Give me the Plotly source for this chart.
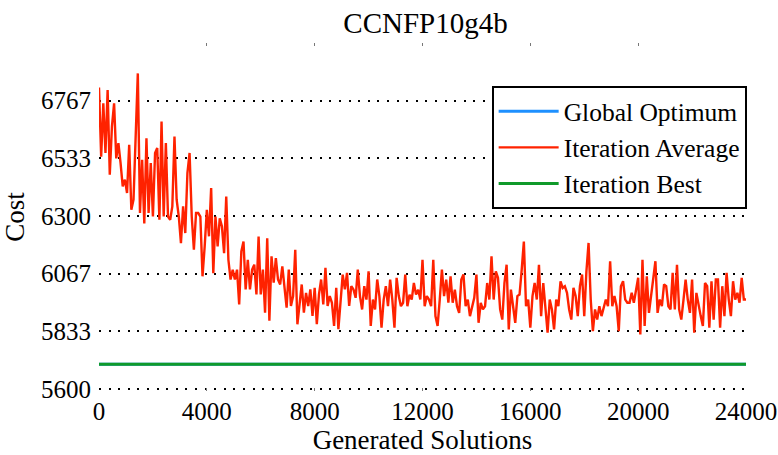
import plotly.graph_objects as go

# Sampling grid of generated solutions for the per-iteration average
solutions = list(range(0, 24001, 80))

# Average cost of the solutions generated in each iteration
iteration_average = [
    6820, 6540, 6756, 6555, 6810, 6467, 6662, 6756, 6533, 6595,
    6514, 6420, 6447, 6393, 6588, 6325, 6366, 6601, 6877, 6312,
    6527, 6270, 6615, 6312, 6514, 6298, 6555, 6575, 6285, 6682,
    6298, 6595, 6298, 6285, 6339, 6622, 6366, 6298, 6190, 6339,
    6231, 6474, 6555, 6298, 6164, 6312, 6312, 6298, 6056, 6177,
    6325, 6218, 6413, 6069, 6298, 6177, 6291, 6258, 6150, 6379,
    6123, 6043,
    6083, 6043, 6083, 5942, 6157, 6197, 6003, 6123, 6003, 6083,
    6103, 5983, 6217, 5983, 6083, 5909, 6210, 5876, 6137, 6030,
    6130, 6043, 6023, 6096, 6016, 5929, 6083, 5936, 5976, 6163,
    5862, 5956, 6023, 5909, 5989, 5936, 6003, 5896, 6009, 5862,
    5983, 6043, 5942, 6090, 5936, 5976, 5949, 5855, 6009, 5842,
    5949, 6063, 6003, 6070, 5936, 6016, 6003, 5969, 6083, 5976,
    5922, 6016, 5962, 6076, 5855, 5962, 5922, 6043, 5976, 5848,
    5962, 6016, 5935, 6043, 5962, 5848, 6050, 5976, 5935, 5949,
    6063, 5935, 5982, 5962, 6029, 5982, 6002, 5962, 6123, 5935,
    5976, 5962, 5935, 6123, 5895, 5855, 5962, 6083, 5976, 6043,
    5949, 6056, 5949, 6002, 5935, 5908, 6043, 6063, 5935, 5962,
    5895, 5935, 5969, 6063, 5868, 5949, 5922, 5935, 6029, 5962,
    6137, 5962, 6076, 6050, 5922, 5881, 6029, 6103, 5841, 6002,
    5922, 5868, 5976, 5982, 6083, 6197, 5935, 5962, 5848, 5976,
    6029, 5962, 6103, 5895, 6029, 5908, 5828, 5962, 5922, 5841,
    5962, 5935, 6036, 6009, 6016, 5989, 5922, 5881, 6009, 5976,
    5895, 6016, 6063, 5895, 6076, 6191, 5962, 5834, 5922, 5881,
    5935, 5895, 5928, 5962, 5935, 6117, 5935, 5976, 5935, 5834,
    6016, 6036, 5962, 5949, 5949, 5989, 5949, 6009, 6050, 5821,
    6123, 5855, 6056, 5908, 5976, 6029, 6117, 5908, 5962, 5935,
    6023, 6016, 5935, 5922, 6070, 5922, 6103, 5922, 5881, 5960,
    6043, 5962, 5908, 6043, 5828, 5989, 5935, 5895, 5855, 6029,
    6016, 5848, 6036, 5881, 6043, 6043, 5848, 6016, 5895, 6070,
    5962, 5895, 6036, 5962, 5989, 5949, 6050, 5962, 5962,
]

# Constant reference levels (start and end of the run)
run_span = [0, 24000]
global_optimum = [5700, 5700]
iteration_best = [5700, 5700]

# Axis ticks
x_tick_values = [0, 4000, 8000, 12000, 16000, 20000, 24000]
x_tick_labels = ["0", "4000", "8000", "12000", "16000", "20000", "24000"]
y_tick_values = [5600, 5833.33, 6066.67, 6300, 6533.33, 6766.67]
y_tick_labels = ["5600", "5833", "6067", "6300", "6533", "6767"]

FONT = "Liberation Serif"

fig = go.Figure()
fig.add_trace(go.Scatter(
    x=run_span, y=global_optimum, mode="lines", name="Global Optimum",
    line=dict(color="#1e90ff", width=3),
))
fig.add_trace(go.Scatter(
    x=solutions, y=iteration_average, mode="lines", name="Iteration Average",
    line=dict(color="#ff2200", width=2.4),
))
fig.add_trace(go.Scatter(
    x=run_span, y=iteration_best, mode="lines", name="Iteration Best",
    line=dict(color="#109a2a", width=3),
))

fig.update_layout(
    width=778, height=455,
    margin=dict(l=99, r=32, t=43, b=64, autoexpand=False),
    paper_bgcolor="white", plot_bgcolor="white",
    font=dict(family=FONT, size=25, color="black"),
    title=dict(text="CCNFP10g4b", x=0.547, xanchor="center",
               y=1 - 23 / 455, yanchor="middle", yref="container",
               font=dict(family=FONT, size=29, color="black")),
    showlegend=True,
    legend=dict(x=1.001, xanchor="right", y=0.876, yanchor="top",
                bgcolor="white", bordercolor="black", borderwidth=2,
                tracegroupgap=0, itemwidth=60,
                font=dict(family=FONT, size=25.5, color="black")),
)
fig.update_xaxes(
    range=[0, 24000], tickvals=x_tick_values, ticktext=x_tick_labels,
    automargin=False,
    ticks="inside", ticklen=3, tickcolor="#777", mirror="ticks",
    showgrid=False, zeroline=False, showline=False,
    ticklabelstandoff=3,
    tickfont=dict(family=FONT, size=25, color="black"),
    title=dict(text="Generated Solutions", standoff=10,
               font=dict(family=FONT, size=27, color="black")),
)
fig.update_yaxes(
    range=[5592, 7000], tickvals=y_tick_values, ticktext=y_tick_labels,
    automargin=False,
    ticks="", showline=False, zeroline=False,
    showgrid=True, gridcolor="black", gridwidth=2, griddash="2px,7.6px",
    ticklabelstandoff=7,
    tickfont=dict(family=FONT, size=25, color="black"),
    title=dict(text="Cost", standoff=12,
               font=dict(family=FONT, size=27, color="black")),
)

fig.write_html("out.html")
